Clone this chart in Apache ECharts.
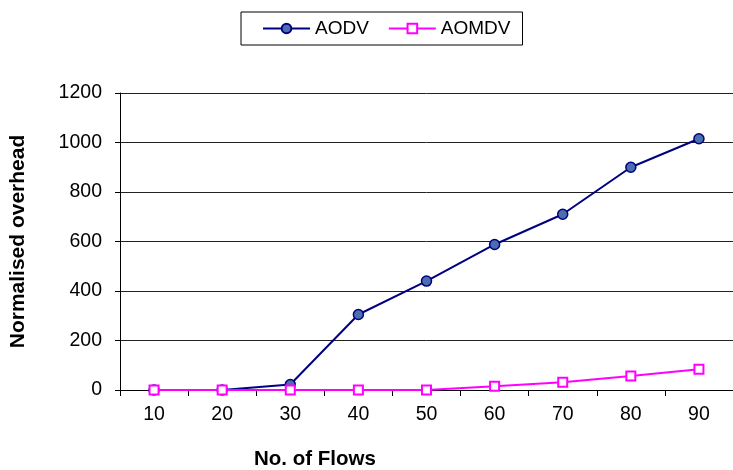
<!DOCTYPE html>
<html>
<head>
<meta charset="utf-8">
<script src="https://cdn.jsdelivr.net/npm/echarts@6/dist/echarts.min.js"></script>
<style>
html,body{margin:0;padding:0;background:#fff;}
#chart{width:733px;height:470px;}
</style>
</head>
<body>
<div id="chart"></div>
<script>
const categories = ['10', '20', '30', '40', '50', '60', '70', '80', '90'];
const aodv = [0, 0, 22, 305, 440, 588, 710, 900, 1015];
const aomdv = [0, 0, 0, 0, 0, 15, 31, 57, 84];
const yTicks = { min: 0, max: 1200, interval: 200 };

const chart = echarts.init(document.getElementById('chart'), null, { renderer: 'canvas' });
const font = 'Liberation Sans, Arial, sans-serif';
chart.setOption({
  animation: false,
  backgroundColor: '#fff',
  title: {
    text: 'No. of Flows',
    left: 254,
    top: 449,
    padding: 0,
    textStyle: { fontFamily: font, fontSize: 20.5, fontWeight: 'bold', color: '#000' }
  },
  legend: {
    left: 241,
    top: 12,
    padding: [7, 12, 7, 21],
    borderColor: '#000',
    borderWidth: 1,
    itemWidth: 47,
    itemHeight: 12,
    itemGap: 19,
    textStyle: { fontFamily: font, fontSize: 19, color: '#000' },
    data: ['AODV', 'AOMDV']
  },
  grid: { left: 120, right: -8, top: 93, bottom: 80, containLabel: false },
  xAxis: {
    type: 'category',
    data: categories,
    boundaryGap: true,
    axisLine: { show: true, lineStyle: { color: '#000', width: 1 } },
    axisTick: { show: true, alignWithLabel: false, length: 6, lineStyle: { color: '#000' } },
    axisLabel: { fontFamily: font, fontSize: 19.5, color: '#000', margin: 15 },
    splitLine: { show: false }
  },
  yAxis: {
    type: 'value',
    min: yTicks.min,
    max: yTicks.max,
    interval: yTicks.interval,
    name: 'Normalised overhead',
    nameLocation: 'middle',
    nameGap: 91,
    nameTextStyle: { fontFamily: font, fontSize: 21, fontWeight: 'bold', color: '#000' },
    axisLine: { show: true, lineStyle: { color: '#000', width: 1 } },
    axisTick: { show: true, length: 5, lineStyle: { color: '#000' } },
    axisLabel: { fontFamily: font, fontSize: 19.5, color: '#000', margin: 18, formatter: function (v) { return String(v); } },
    splitLine: { show: true, lineStyle: { color: '#222', width: 1 } }
  },
  series: [
    {
      name: 'AODV',
      type: 'line',
      data: aodv,
      symbol: 'circle',
      symbolSize: 10,
      showAllSymbol: true,
      lineStyle: { color: '#000080', width: 2 },
      itemStyle: { color: '#4b6eae', borderColor: '#000080', borderWidth: 1.5 },
      z: 2
    },
    {
      name: 'AOMDV',
      type: 'line',
      data: aomdv,
      symbol: 'rect',
      symbolSize: 9,
      showAllSymbol: true,
      lineStyle: { color: '#ff00ff', width: 2 },
      itemStyle: { color: '#ffffff', borderColor: '#ff00ff', borderWidth: 2 },
      z: 3
    }
  ]
});
</script>
</body>
</html>
